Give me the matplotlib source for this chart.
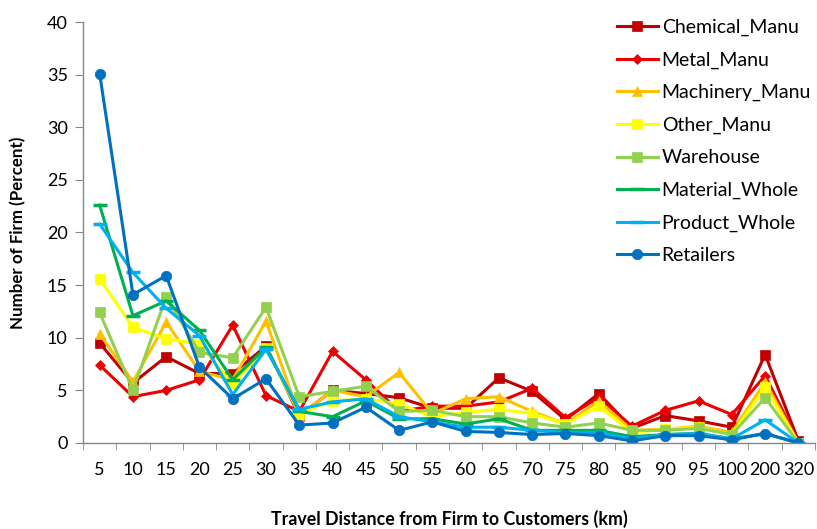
import matplotlib
matplotlib.use("Agg")
import matplotlib.pyplot as plt
import numpy as np

plt.rcParams['font.family'] = ['Lato', 'DejaVu Sans']

distances = ["5", "10", "15", "20", "25", "30", "35", "40", "45", "50", "55",
             "60", "65", "70", "75", "80", "85", "90", "95", "100", "200", "320"]

chemical_manu = [9.5, 5.7, 8.2, 6.6, 6.6, 9.2, 2.6, 5.0, 4.7, 4.3, 3.3,
                 3.3, 6.2, 4.9, 2.2, 4.7, 1.4, 2.6, 2.1, 1.5, 8.4, 0.2]
metal_manu = [7.4, 4.4, 5.0, 6.0, 11.2, 4.5, 3.0, 8.7, 6.0, 3.0, 3.5,
              3.5, 3.9, 5.2, 2.4, 4.3, 1.6, 3.1, 4.0, 2.7, 6.4, 0.1]
machinery_manu = [10.4, 5.8, 11.5, 6.8, 6.0, 11.6, 2.6, 5.0, 4.4, 6.7, 2.8,
                  4.2, 4.4, 3.0, 1.8, 4.0, 1.2, 1.3, 1.6, 1.0, 5.8, 0.0]
other_manu = [15.6, 11.0, 9.9, 9.4, 5.6, 9.0, 2.8, 4.0, 4.2, 3.7, 2.5,
              2.9, 3.2, 2.8, 1.8, 3.5, 1.0, 1.3, 1.5, 0.8, 5.3, 0.0]
warehouse = [12.4, 5.0, 13.9, 8.6, 8.1, 12.9, 4.4, 4.9, 5.4, 3.0, 3.1,
             2.5, 2.5, 1.9, 1.5, 1.9, 1.2, 1.2, 1.4, 0.8, 4.3, 0.0]
material_whole = [22.6, 12.1, 13.5, 10.7, 6.0, 9.1, 3.0, 2.5, 4.0, 2.3, 2.3,
                  1.8, 2.3, 1.2, 1.2, 1.2, 0.6, 0.8, 0.9, 0.4, 0.9, 0.0]
product_whole = [20.8, 16.2, 12.8, 10.2, 4.6, 8.9, 3.2, 3.9, 4.2, 2.5, 2.0,
                 1.5, 1.5, 1.2, 1.0, 1.0, 0.4, 0.8, 0.9, 0.4, 2.2, 0.0]
retailers = [35.1, 14.1, 15.9, 7.2, 4.2, 6.1, 1.7, 1.9, 3.4, 1.2, 2.0,
             1.1, 1.0, 0.8, 0.9, 0.7, 0.2, 0.7, 0.7, 0.3, 0.9, 0.0]

series = [
    ("Chemical_Manu", chemical_manu, "#C00000", "s", 7),
    ("Metal_Manu", metal_manu, "#EE0000", "D", 5.5),
    ("Machinery_Manu", machinery_manu, "#FFC000", "^", 7.5),
    ("Other_Manu", other_manu, "#FFFF00", "s", 7),
    ("Warehouse", warehouse, "#92D050", "s", 7),
    ("Material_Whole", material_whole, "#00B050", "_", 10),
    ("Product_Whole", product_whole, "#00B0F0", "_", 10),
    ("Retailers", retailers, "#0070C0", "o", 7.5),
]

fig = plt.figure(figsize=(8.17, 5.29), dpi=100)
ax = fig.add_axes([0.1016, 0.1626, 0.8960, 0.7958])

x = np.arange(len(distances))
for name, vals, color, marker, ms in series:
    ax.plot(x, vals, color=color, lw=2.2, marker=marker, ms=ms,
            mew=2.5 if marker == "_" else 0.5, mec=color, mfc=color, label=name)

ax.set_xlim(-0.5, len(distances) - 0.5)
ax.set_ylim(0, 40)
ax.set_yticks(np.arange(0, 41, 5))
ax.set_xticks(x)
ax.set_xticklabels(distances)
ax.set_xticks(np.arange(-0.5, len(distances), 1.0), minor=True)

for side in ("top", "right"):
    ax.spines[side].set_visible(False)
for side in ("left", "bottom"):
    ax.spines[side].set_color("#868686")
    ax.spines[side].set_linewidth(1.0)

ax.tick_params(axis="x", which="major", length=0, pad=14, labelsize=13)
ax.tick_params(axis="x", which="minor", length=5, color="#868686", direction="out")
ax.tick_params(axis="y", which="major", length=6, color="#868686", labelsize=13, pad=5)

ax.set_xlabel("Travel Distance from Firm to Customers (km)", fontsize=12.8,
              fontweight="bold", labelpad=23)
ax.set_ylabel("Number of Firm (Percent)", fontsize=12.2, fontweight="bold", labelpad=15)

leg = fig.legend(*ax.get_legend_handles_labels(), loc="upper left",
                 bbox_to_anchor=(0.7457, 0.979), frameon=False,
                 fontsize=14, handlelength=2.1, labelspacing=0.79, handletextpad=0.2,
                 borderaxespad=0.0)

fig.savefig("out.png", dpi=100)
